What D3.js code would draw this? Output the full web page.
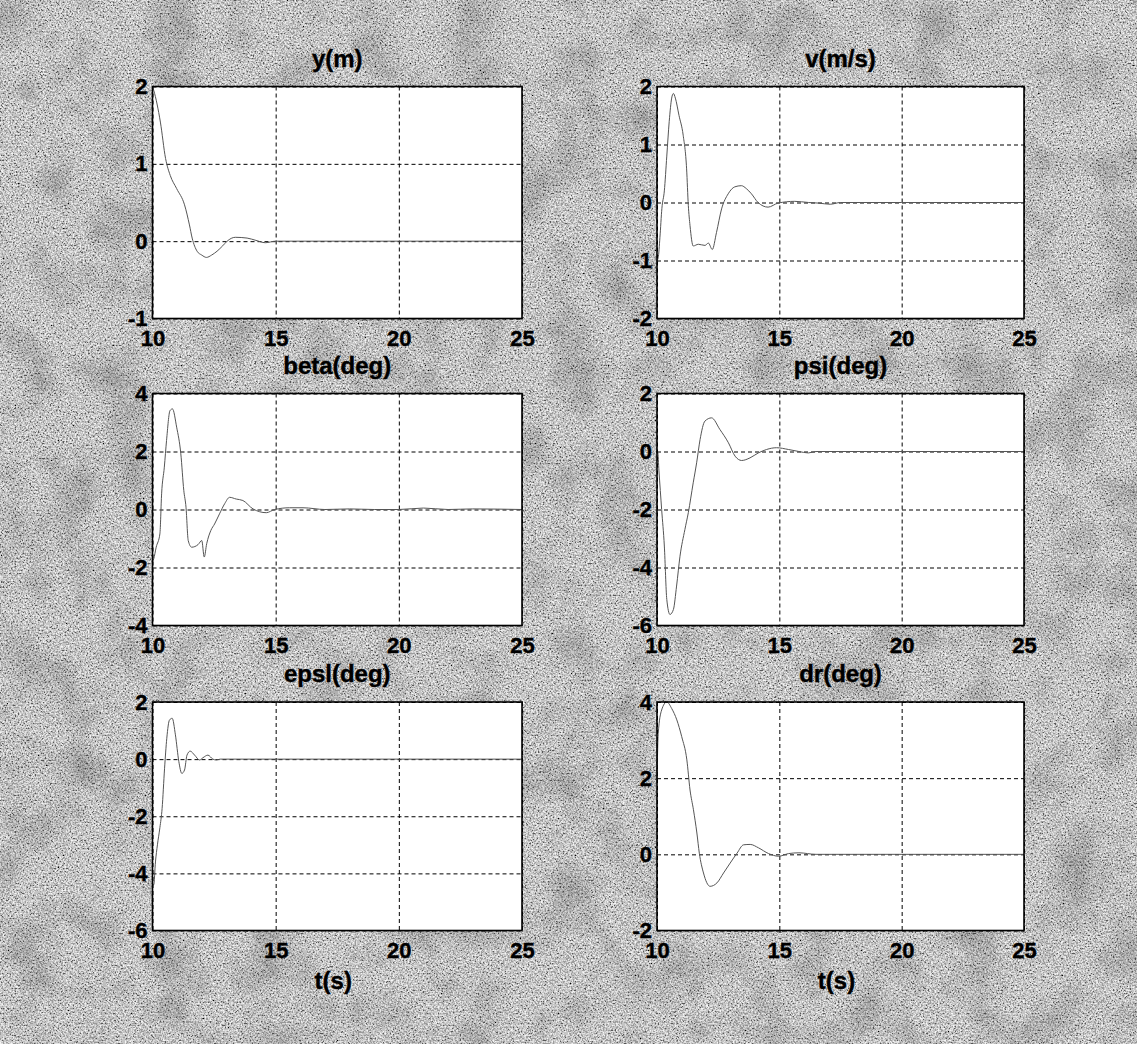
<!DOCTYPE html>
<html>
<head>
<meta charset="utf-8">
<script src="https://cdn.jsdelivr.net/npm/d3@7"></script>
<style>
  body { margin: 0; background: #a0a0a0; }
  text { font-family: "Liberation Sans", Arial, sans-serif; font-weight: bold; fill: #000; stroke: #000; stroke-width: 0.4px; }
</style>
</head>
<body>
<script>
'use strict';

// y(m)
const yT   = [10, 10.05, 10.32, 10.53, 10.72, 10.98, 11.3, 11.5, 11.61, 11.81, 12.0, 12.19, 12.4, 12.62, 12.85, 13.03, 13.36, 13.84, 14.2, 14.58, 15, 16, 18, 20, 22, 25];
const yVal = [2.0, 1.95, 1.54, 1.07, 0.85, 0.68, 0.47, 0.21, 0.04, -0.13, -0.18, -0.21, -0.18, -0.13, -0.06, 0, 0.05, 0.04, 0.01, -0.02, 0, 0, 0, 0, 0, 0];

// v(m/s)
const vT   = [10, 10.05, 10.12, 10.2, 10.3, 10.4, 10.5, 10.6, 10.67, 10.75, 10.9, 11.07, 11.21, 11.28, 11.35, 11.48, 11.69, 11.96, 12.1, 12.26, 12.43, 12.64, 12.91, 13.18, 13.45, 13.65, 13.86, 14.13, 14.54, 14.95, 15.63, 16.2, 16.6, 17.08, 17.5, 20, 25];
const vVal = [-1.0, -0.95, -0.6, -0.1, 0.2, 0.8, 1.4, 1.8, 1.88, 1.8, 1.5, 1.16, 0.58, -0.05, -0.4, -0.75, -0.72, -0.74, -0.7, -0.81, -0.52, -0.11, 0.15, 0.27, 0.29, 0.24, 0.15, 0, -0.08, -0.01, 0.02, 0, -0.01, -0.03, 0, 0, 0];

// beta(deg)
const betaT   = [10, 10.05, 10.15, 10.3, 10.37, 10.48, 10.57, 10.71, 10.81, 10.98, 11.15, 11.27, 11.36, 11.45, 11.59, 11.85, 12.0, 12.1, 12.2, 12.37, 12.52, 12.72, 12.93, 13.13, 13.4, 13.67, 14.08, 14.62, 14.96, 15.57, 16.11, 17, 18, 19, 20, 21, 22, 23, 25];
const betaVal = [-1.8, -1.7, -1.3, -0.84, 0.54, 1.46, 2.38, 3.41, 3.47, 2.84, 1.92, 0.66, 0.08, -1.07, -1.3, -1.21, -1.07, -1.64, -1.18, -0.72, -0.5, -0.15, 0.2, 0.42, 0.36, 0.31, 0.02, -0.11, 0, 0.06, 0.06, 0, 0.02, 0, 0, 0.05, 0, 0.02, 0];

// psi(deg)
const psiT   = [10, 10.03, 10.08, 10.19, 10.3, 10.4, 10.53, 10.67, 10.8, 10.94, 11.14, 11.28, 11.48, 11.62, 11.76, 11.96, 12.23, 12.57, 12.92, 13.19, 13.46, 13.8, 14.14, 14.48, 14.89, 15.37, 15.8, 16.19, 16.5, 25];
const psiVal = [0, -0.02, -0.67, -2.0, -3.26, -5.1, -5.62, -5.45, -4.64, -3.61, -2.69, -2.11, -1.08, -0.39, 0.41, 1.05, 1.16, 0.76, 0.30, -0.16, -0.31, -0.22, -0.05, 0.07, 0.13, 0.07, 0, -0.05, 0, 0];

// epsl(deg)
const epsT   = [10, 10.05, 10.12, 10.2, 10.3, 10.39, 10.49, 10.58, 10.69, 10.8, 10.93, 11.07, 11.19, 11.3, 11.4, 11.53, 11.71, 11.91, 12.05, 12.25, 12.45, 12.59, 12.75, 25];
const epsVal = [-4.4, -4.4, -3.6, -3.0, -2.4, -1.73, -0.32, 0.73, 1.37, 1.43, 0.85, -0.09, -0.5, -0.38, 0.14, 0.28, 0.14, -0.03, 0.05, 0.14, 0, -0.03, 0, 0];

// dr(deg)
const drT   = [10, 10.05, 10.19, 10.4, 10.6, 10.81, 11.01, 11.22, 11.35, 11.49, 11.63, 11.73, 11.9, 12.17, 12.45, 12.72, 12.99, 13.27, 13.54, 13.81, 14.15, 14.56, 14.97, 15.38, 15.8, 16.5, 25];
const drVal = [1.96, 3.17, 3.79, 4.0, 3.83, 3.53, 3.09, 2.48, 1.69, 1.17, 0.56, 0.03, -0.49, -0.84, -0.75, -0.49, -0.23, 0.03, 0.25, 0.26, 0.17, 0.02, -0.05, 0.02, 0.04, 0, 0];

const xTicks = [10, 15, 20, 25];
const titles = ["y(m)", "v(m/s)", "beta(deg)", "psi(deg)", "epsl(deg)", "dr(deg)"];
const yDomains = [[-1, 2], [-2, 2], [-4, 4], [-6, 2], [-6, 2], [-2, 4]];
const yTicks = [[-1, 0, 1, 2], [-2, -1, 0, 1, 2], [-4, -2, 0, 2, 4], [-6, -4, -2, 0, 2], [-6, -4, -2, 0, 2], [-2, 0, 2, 4]];

(function() {

    const colX = [152.5, 657];
    const colW = [369.5, 367];
    const rowY = [86.5, 393.5, 702];
    const rowH = [232, 232, 228.5];

    // plain hyphen minus, like the scanned figure
    const fmt = function(d) { return String(d); };

    window.onload = function() {
        let svg = d3.select("body").append("svg")
            .attr("width", 1137)
            .attr("height", 1044);

        drawBackground(svg);

        const series = [[yT, yVal], [vT, vVal], [betaT, betaVal], [psiT, psiVal], [epsT, epsVal], [drT, drVal]];

        series.forEach(function(s, i) {
            const col = i % 2, row = Math.floor(i / 2);
            drawPanel(svg, i, s[0], s[1], colX[col], rowY[row], colW[col], rowH[row], row === 2);
        });
    }

    function drawBackground(svg) {
        let defs = svg.append("defs");

        // fine speckle of the scan
        let f = defs.append("filter").attr("id", "scan")
            .attr("filterUnits", "userSpaceOnUse")
            .attr("x", 0).attr("y", 0).attr("width", 1137).attr("height", 1044);
        f.append("feTurbulence")
            .attr("type", "fractalNoise")
            .attr("baseFrequency", 0.6)
            .attr("numOctaves", 2)
            .attr("seed", 7)
            .attr("result", "n");
        f.append("feColorMatrix")
            .attr("in", "n")
            .attr("type", "matrix")
            .attr("values", "1 0 0 0 0  1 0 0 0 0  1 0 0 0 0  0 0 0 0 1")
            .attr("result", "g");
        let ct = f.append("feComponentTransfer").attr("in", "g");
        ["feFuncR", "feFuncG", "feFuncB"].forEach(function(fn) {
            ct.append(fn).attr("type", "discrete")
                .attr("tableValues", "0 0.1 0.34 0.56 0.76 0.92 1");
        });

        // darker smudges
        let b = defs.append("filter").attr("id", "blot")
            .attr("filterUnits", "userSpaceOnUse")
            .attr("x", 0).attr("y", 0).attr("width", 1137).attr("height", 1044);
        b.append("feTurbulence")
            .attr("type", "fractalNoise")
            .attr("baseFrequency", 0.02)
            .attr("numOctaves", 4)
            .attr("seed", 4)
            .attr("result", "c");
        b.append("feColorMatrix")
            .attr("in", "c")
            .attr("type", "matrix")
            .attr("values", "0 0 0 0 0  0 0 0 0 0  0 0 0 0 0  2.0 0 0 0 -0.9");

        svg.append("rect")
            .attr("width", 1137)
            .attr("height", 1044)
            .attr("fill", "#a0a0a0")
            .attr("filter", "url(#scan)");

        svg.append("rect")
            .attr("width", 1137)
            .attr("height", 1044)
            .attr("fill", "#000")
            .attr("opacity", 0.22)
            .attr("filter", "url(#blot)");
    }

    function drawPanel(svg, i, tArr, vArr, left, top, w, h, lastRow) {
        let x = d3.scaleLinear().domain([10, 25]).range([0, w]);
        let y = d3.scaleLinear().domain(yDomains[i]).range([h, 0]);

        let g = svg.append("g").attr("transform", "translate(" + left + "," + top + ")");

        g.append("rect")
            .attr("width", w)
            .attr("height", h)
            .attr("fill", "#fff");

        // grid
        g.append("g")
            .attr("class", "grid")
            .call(d3.axisBottom(x).tickValues(xTicks).tickSize(h).tickFormat(""))
            .call(sel => sel.select(".domain").remove())
            .selectAll("line")
            .attr("stroke", "#000")
            .attr("stroke-dasharray", "4,3");

        g.append("g")
            .attr("class", "grid")
            .call(d3.axisLeft(y).tickValues(yTicks[i]).tickSize(-w).tickFormat(""))
            .call(sel => sel.select(".domain").remove())
            .selectAll("line")
            .attr("stroke", "#000")
            .attr("stroke-dasharray", "4,3");

        // the data
        let line = d3.line()
            .x(function(d, k) { return x(tArr[k]); })
            .y(function(d) { return y(d); })
            .curve(d3.curveMonotoneX);

        g.append("path")
            .datum(vArr)
            .attr("d", line)
            .attr("fill", "none")
            .attr("stroke", "#555")
            .attr("stroke-width", 1);

        g.append("rect")
            .attr("width", w)
            .attr("height", h)
            .attr("fill", "none")
            .attr("stroke", "#000")
            .attr("stroke-width", 1.6);

        // tick labels
        let xAxis = g.append("g")
            .attr("transform", "translate(0," + h + ")")
            .call(d3.axisBottom(x).tickValues(xTicks).tickFormat(fmt).tickSize(0));
        xAxis.select(".domain").remove();
        xAxis.selectAll("text")
            .attr("font-size", 22)
            .attr("font-family", null)
            .attr("y", 27)
            .attr("dy", 0);

        let yAxis = g.append("g")
            .call(d3.axisLeft(y).tickValues(yTicks[i]).tickFormat(fmt).tickSize(0).tickPadding(5));
        yAxis.select(".domain").remove();
        yAxis.selectAll("text")
            .attr("font-size", 22)
            .attr("font-family", null);

        svg.append("text")
            .attr("x", left + w / 2)
            .attr("y", top - 20)
            .attr("text-anchor", "middle")
            .attr("font-size", 24)
            .text(titles[i]);

        if (lastRow) {
            svg.append("text")
                .attr("x", left + w / 2 - 4)
                .attr("y", top + h + 58)
                .attr("text-anchor", "middle")
                .attr("font-size", 24)
                .text("t(s)");
        }
    }
})()
</script>
</body>
</html>
